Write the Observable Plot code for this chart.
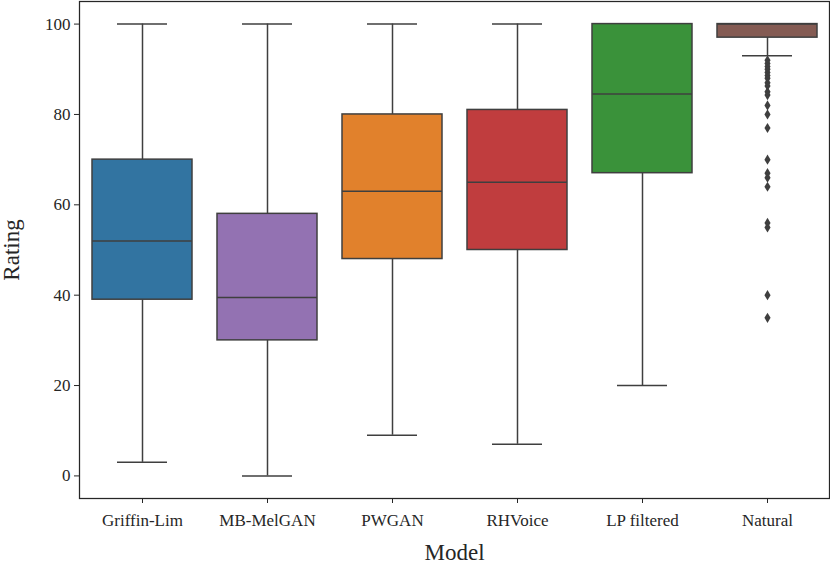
<!DOCTYPE html>
<html>
<head>
<meta charset="utf-8">
<script src="https://cdn.jsdelivr.net/npm/d3@7"></script>
<script src="https://cdn.jsdelivr.net/npm/@observablehq/plot@0.6"></script>
<style>
  html, body { margin: 0; padding: 0; background: #fff; }
  svg { font-family: "Liberation Serif", "DejaVu Serif", serif; }
</style>
</head>
<body>
<div id="chart"></div>
<script>
const models = ["Griffin-Lim", "MB-MelGAN", "PWGAN", "RHVoice", "LP filtered", "Natural"];
const lowWhisker = [3, 0, 9, 7, 20, 93];
const q1 = [39, 30, 48, 50, 67, 97];
const medians = [52, 39.5, 63, 65, 84.5, 100];
const q3 = [70, 58, 80, 81, 100, 100];
const highWhisker = [100, 100, 100, 100, 100, 100];
const colors = ["#3274a1", "#9372b2", "#e1812c", "#c03d3e", "#3a923a", "#845b53"];
const naturalOutliers = [92, 91.3, 90.6, 90, 89.3, 88.6, 88, 87, 86.3, 85, 84.3, 82, 80, 77, 70, 67, 66, 64, 56, 55, 40, 35];
const yTicks = [0, 20, 40, 60, 80, 100];

const boxes = models.map((m, i) => ({
  model: m, low: lowWhisker[i], q1: q1[i], med: medians[i], q3: q3[i], high: highWhisker[i], color: colors[i]
}));
const outliers = naturalOutliers.map(v => ({model: "Natural", value: v}));

const thinDiamond = {
  draw(ctx, size) {
    const h = Math.sqrt(size) * 0.72;
    const w = h * 0.6;
    ctx.moveTo(0, -h); ctx.lineTo(w, 0); ctx.lineTo(0, h); ctx.lineTo(-w, 0); ctx.closePath();
  }
};

const line = "#3f3f3f";
const font = '"Liberation Serif", "DejaVu Serif", serif';
const chart = Plot.plot({
  width: 830,
  height: 565,
  marginLeft: 79,
  marginRight: 1,
  marginTop: 1,
  marginBottom: 67,
  style: {fontFamily: font, fontSize: "17px", color: "#262626", background: "#fff"},
  x: {domain: models, paddingInner: 0.2, paddingOuter: 0.1, label: null},
  y: {domain: [-5, 105], label: null},
  marks: [
    Plot.ruleX(boxes, {x: "model", y1: "low", y2: "q1", stroke: line, strokeWidth: 1.5}),
    Plot.ruleX(boxes, {x: "model", y1: "q3", y2: "high", stroke: line, strokeWidth: 1.5}),
    Plot.tickY(boxes, {x: "model", y: "low", stroke: line, strokeWidth: 1.5, insetLeft: 25, insetRight: 25}),
    Plot.tickY(boxes, {x: "model", y: "high", stroke: line, strokeWidth: 1.5, insetLeft: 25, insetRight: 25}),
    Plot.barY(boxes, {x: "model", y1: "q1", y2: "q3", fill: "color", stroke: line, strokeWidth: 1.5}),
    Plot.tickY(boxes, {x: "model", y: "med", stroke: line, strokeWidth: 1.5}),
    Plot.dot(outliers, {x: "model", y: "value", symbol: thinDiamond, r: 4, fill: line, stroke: "none"}),
    Plot.frame({stroke: "#262626", strokeWidth: 1.25}),
    Plot.axisY({ticks: yTicks, tickSize: 5, tickPadding: 4, fontSize: 17, label: null, stroke: "#262626"}),
    Plot.axisX({tickSize: 5, tickPadding: 10, fontSize: 17, label: null, stroke: "#262626"}),
    Plot.text(["Rating"], {frameAnchor: "left", rotate: -90, dx: -77, textAnchor: "middle", lineAnchor: "top", fontSize: 23, fill: "#262626"}),
    Plot.text(["Model"], {frameAnchor: "bottom", dy: 61, fontSize: 23, fill: "#262626"})
  ]
});
document.getElementById("chart").appendChild(chart);
</script>
</body>
</html>
